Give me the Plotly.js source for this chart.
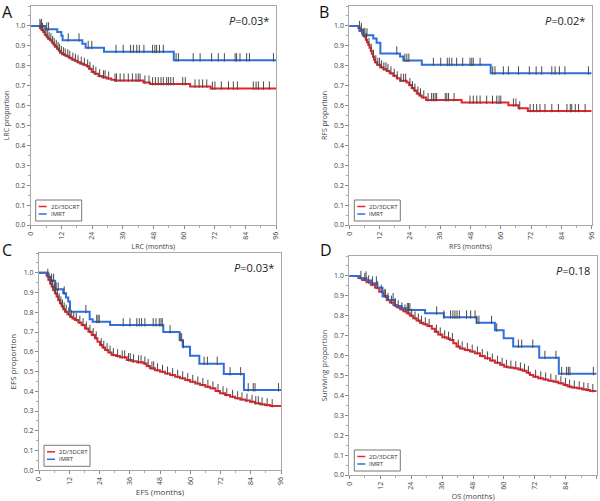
<!DOCTYPE html>
<html>
<head>
<meta charset="utf-8">
<script src="https://cdn.plot.ly/plotly-3.0.1.min.js"></script>
<style>html,body{margin:0;padding:0;background:#fff;}#chart{width:600px;height:501px;}</style>
</head>
<body>
<div id="chart"></div>
<script>
// ---------------- DATA ----------------
var groupNames = ["2D/3DCRT", "IMRT"];
var xTicks = [0, 12, 24, 36, 48, 60, 72, 84, 96];
var yTicks = [0.0, 0.1, 0.2, 0.3, 0.4, 0.5, 0.6, 0.7, 0.8, 0.9, 1.0];
var panelLetters = ["A", "B", "C", "D"];
var yTitles = ["LRC proportion", "RFS proportion", "EFS proportion", "Surviving proportion"];
var xTitles = ["LRC (months)", "RFS (months)", "EFS (months)", "OS (months)"];
var pValues = ["0.03*", "0.02*", "0.03*", "0.18"];

// Panel A: LRC
var A_crt_t = [0,3.6,4.2,4.9,5.5,6.2,6.8,7.6,8.3,9.0,9.5,10.3,11.0,11.5,12.3,13.2,14.1,15.0,16.0,17.2,18.3,19.3,20.5,21.9,22.8,23.9,25.0,26.5,28.0,29.7,31.5,33.0,44.1,46.7,62.4,70.4,96];
var A_crt_s = [1.0,0.99,0.98,0.97,0.955,0.945,0.935,0.928,0.915,0.905,0.895,0.885,0.875,0.865,0.858,0.852,0.848,0.84,0.831,0.825,0.818,0.811,0.805,0.797,0.785,0.769,0.76,0.748,0.742,0.736,0.73,0.726,0.716,0.708,0.696,0.686,0.686];
var A_crt_cens = [4.0,4.6,5.2,5.9,6.5,7.2,7.9,8.6,9.2,10.0,10.7,11.3,12.0,12.8,13.5,14.5,15.3,16.5,17.5,18.5,19.8,21.0,22.3,23.2,24.5,25.5,27.0,28.5,29.1,30.5,33.0,33.6,35.0,36.5,38.2,39.8,41.2,42.1,42.8,44.7,46.3,47.7,48.8,49.9,51.0,51.9,53.2,53.9,54.8,55.8,59.5,60.5,64.3,65.9,67.3,68.9,71.1,72.1,74.6,77.4,79.3,80.9,87.1,88.2,89.1,91.1,93.4];
var A_imrt_t = [0,5.8,10.4,12.0,12.5,20.2,21.5,28.7,56.0,96];
var A_imrt_s = [1.0,0.983,0.97,0.95,0.928,0.91,0.89,0.87,0.828,0.828];
var A_imrt_cens = [3.6,4.2,6.3,7.0,14.7,18.9,22.5,23.9,33.4,36.2,39.1,40.2,41.5,42.5,44.3,47.7,48.6,49.3,50.4,51.9,56.9,57.8,63.6,66.3,70.8,73.4,75.8,80.0,80.6,81.9,84.5,85.6,95.0];

// Panel B: RFS
var B_crt_t = [0,3.6,4.3,5.0,5.5,6.0,6.5,7.0,7.5,8.0,8.5,8.9,9.4,9.8,10.2,11.0,12.2,13.5,14.8,16.0,17.4,18.8,20.1,22.7,23.7,24.7,25.7,26.7,27.7,28.7,30.4,44.5,63.0,67.0,70.7,96];
var B_crt_s = [1,0.99,0.98,0.965,0.955,0.945,0.93,0.918,0.905,0.89,0.875,0.86,0.845,0.83,0.818,0.805,0.792,0.782,0.774,0.762,0.75,0.737,0.725,0.716,0.703,0.688,0.675,0.661,0.651,0.641,0.628,0.615,0.601,0.587,0.573,0.573];
var B_crt_cens = [4.0,4.8,5.8,6.8,7.8,8.7,9.6,10.5,11.3,12.0,12.8,13.7,14.5,15.3,16.5,17.8,19.0,20.5,21.5,22.3,24.0,25.0,26.0,27.2,28.2,29.5,31.2,32.6,33.3,34.0,34.6,38.0,38.6,39.3,41.5,47.8,49.1,50.5,51.8,54.4,56.7,58.4,59.3,60.0,65.0,66.0,67.5,71.6,72.9,74.2,75.5,77.5,80.2,82.8,86.2,87.5,88.1,89.5,90.8,93.4];
var B_imrt_t = [0,4.0,5.3,9.5,10.8,12.3,20.1,21.4,28.7,56.0,96];
var B_imrt_s = [1,0.975,0.953,0.937,0.915,0.862,0.846,0.826,0.805,0.762,0.762];
var B_imrt_cens = [5.5,6.2,7.0,18.8,22.0,22.8,23.6,33.3,36.2,38.8,39.6,40.6,42.5,44.9,47.8,48.5,49.1,51.8,56.8,57.7,61.0,63.0,67.0,71.3,74.0,76.2,80.2,81.5,83.2,85.4,94.7];

// Panel C: EFS
var C_crt_t = [0,3.0,3.7,4.4,5.0,5.6,6.3,7.0,7.6,8.3,9.0,9.6,10.3,11.3,12.3,13.3,14.3,15.6,16.9,18.2,19.6,20.9,22.2,23.2,24.2,25.2,26.2,27.5,28.8,30.5,32.1,34.8,36.8,38.8,41.4,42.7,44.0,46.0,48.0,50.0,52.0,54.0,55.9,58.0,59.9,62.0,63.9,66.0,67.9,70.0,71.8,73.8,75.8,77.8,79.8,81.8,83.7,85.7,87.7,89.7,91.7,96];
var C_crt_s = [1,0.985,0.965,0.946,0.93,0.913,0.896,0.88,0.862,0.845,0.83,0.815,0.803,0.79,0.777,0.769,0.761,0.748,0.735,0.718,0.701,0.685,0.668,0.651,0.634,0.621,0.609,0.596,0.584,0.578,0.572,0.558,0.552,0.547,0.541,0.528,0.516,0.507,0.499,0.49,0.482,0.474,0.466,0.457,0.448,0.44,0.432,0.423,0.415,0.402,0.39,0.381,0.372,0.365,0.359,0.353,0.347,0.34,0.334,0.33,0.325,0.322];
var C_crt_cens = [3.5,4.0,4.7,5.3,6.0,6.6,7.3,8.0,8.7,9.3,10.0,10.8,11.8,12.8,13.8,14.8,16.2,17.5,18.8,20.2,21.5,22.7,24.7,25.7,27.0,28.2,29.5,31.2,33.0,34.0,35.5,36.2,37.5,39.5,40.5,42.0,43.3,44.8,45.5,47.0,49.0,51.0,53.0,55.0,57.0,59.0,61.0,63.0,65.0,67.0,69.0,71.0,73.0,74.5,76.8,78.8,80.5,82.5,84.5,86.0,87.0,88.5,90.5,92.5];
var C_imrt_t = [0,3.5,4.8,6.4,9.6,10.7,11.6,12.3,20.1,21.3,28.2,49.3,55.8,57.0,59.9,63.6,73.3,81.3,96];
var C_imrt_s = [1,0.98,0.96,0.916,0.896,0.875,0.855,0.802,0.765,0.752,0.735,0.70,0.659,0.625,0.58,0.54,0.487,0.406,0.406];
var C_imrt_cens = [5.0,5.8,6.8,7.6,10.0,18.6,22.9,23.4,23.9,33.4,36.1,38.8,39.8,40.7,42.0,45.3,46.4,47.7,48.4,48.9,52.0,56.0,56.6,57.3,65.5,66.8,70.7,75.8,80.0,83.0,85.0,85.7,95.0];

// Panel D: OS
var D_crt_t = [0,3.5,5.0,6.7,8.3,10.0,11.6,13.2,14.5,15.8,17.1,18.4,19.7,21.0,22.3,23.5,24.8,26.1,27.4,28.7,30.3,32.0,33.2,34.5,36.1,37.8,39.1,40.4,41.6,42.9,44.8,46.8,48.7,50.7,52.6,54.6,56.5,58.5,60.1,61.7,63.7,65.6,67.2,68.8,70.1,71.4,73.3,75.3,77.2,79.2,81.1,83.1,84.7,86.3,88.3,90.2,91.8,93.4,96];
var D_crt_s = [1,0.99,0.98,0.968,0.955,0.94,0.921,0.9,0.879,0.866,0.854,0.843,0.832,0.822,0.812,0.8,0.787,0.776,0.765,0.757,0.749,0.735,0.72,0.706,0.692,0.685,0.678,0.662,0.645,0.636,0.628,0.62,0.611,0.598,0.586,0.575,0.564,0.554,0.544,0.54,0.536,0.53,0.524,0.513,0.502,0.494,0.486,0.48,0.474,0.468,0.461,0.452,0.444,0.44,0.436,0.431,0.427,0.422,0.422];
var D_crt_cens = [4.5,6.0,7.5,9.0,10.8,12.4,13.8,15.0,16.4,17.8,19.0,20.4,21.6,22.9,24.2,25.5,26.8,28.0,29.5,31.0,33.8,35.3,37.0,38.5,40.0,42.3,43.8,45.8,47.7,49.7,51.6,53.6,55.5,57.5,59.3,61.0,62.7,64.6,66.4,68.0,69.5,72.3,74.3,76.2,78.2,80.2,82.1,83.9,85.5,87.3,89.2,91.0,92.6,94.5];
var D_imrt_t = [0,4.1,6.7,8.7,10.9,12.9,15.1,17.7,20.3,22.0,29.4,36.7,49.4,56.5,59.9,63.6,73.7,81.3,96];
var D_imrt_s = [1,0.988,0.977,0.963,0.941,0.896,0.879,0.849,0.838,0.829,0.812,0.792,0.765,0.727,0.687,0.645,0.589,0.508,0.508];
var D_imrt_cens = [6.5,9.0,10.5,14.0,17.0,22.5,23.0,23.5,33.9,36.7,39.3,40.2,41.0,41.8,42.7,45.5,47.1,48.8,49.4,50.3,55.2,57.2,65.6,66.9,71.2,75.9,80.2,82.4,84.3,85.0,85.6,94.7];

// ---------------- STYLE / LAYOUT ----------------
var W = 600, H = 501;
var RED = "#e8232d", BLUE = "#2f6fdc", TICKC = "#4a4a4a";
var FONT = "Open Sans, DejaVu Sans, sans-serif";
function px(x){ return x / W; }
function py(y){ return 1 - y / H; }

// panel pixel boxes: x0 (month 0), x1 (month 96), yb (value 0.0), yt (value 1.1)
var boxes = [
  {x0:30.7, x1:276, yb:225, yt:6},
  {x0:349.3, x1:591.7, yb:225, yt:6},
  {x0:39, x1:281, yb:470.3, yt:253},
  {x0:349.3, x1:596.7, yb:475, yt:256}
];
var titleFont = [7, 7, 8, 7.5];

var panels = [
  {crt:[A_crt_t,A_crt_s,A_crt_cens], imrt:[A_imrt_t,A_imrt_s,A_imrt_cens]},
  {crt:[B_crt_t,B_crt_s,B_crt_cens], imrt:[B_imrt_t,B_imrt_s,B_imrt_cens]},
  {crt:[C_crt_t,C_crt_s,C_crt_cens], imrt:[C_imrt_t,C_imrt_s,C_imrt_cens]},
  {crt:[D_crt_t,D_crt_s,D_crt_cens], imrt:[D_imrt_t,D_imrt_s,D_imrt_cens]}
];

function stepAt(t, s, x){
  var v = s[0];
  for (var i = 0; i < t.length; i++){ if (t[i] <= x) v = s[i]; }
  return v;
}

var traces = [];
var layout = {
  width: W, height: H,
  margin: {l:0, r:0, t:0, b:0},
  paper_bgcolor: "#fff", plot_bgcolor: "#fff",
  showlegend: false,
  font: {family: FONT, color: "#333"},
  shapes: [], annotations: []
};
var CENS_OFF = 0.014;

panels.forEach(function(p, k){
  var n = k === 0 ? "" : String(k + 1);
  var xa = "x" + n, ya = "y" + n;
  var groups = [[p.crt, RED, groupNames[0]], [p.imrt, BLUE, groupNames[1]]];
  groups.forEach(function(g){
    var d = g[0];
    traces.push({type:"scatter", mode:"lines", x:d[0], y:d[1], xaxis:xa, yaxis:ya,
      line:{shape:"hv", color:g[1], width:2}, name:g[2], hoverinfo:"skip"});
  });
  groups.forEach(function(g){
    var d = g[0];
    var cy = d[2].map(function(x){ return stepAt(d[0], d[1], x) + CENS_OFF; });
    traces.push({type:"scatter", mode:"markers", x:d[2], y:cy, xaxis:xa, yaxis:ya,
      marker:{symbol:"line-ns-open", size:6, line:{width:1, color:TICKC}, color:TICKC},
      showlegend:false, hoverinfo:"skip"});
  });
  var b = boxes[k];
  layout["xaxis" + n] = {
    domain:[px(b.x0), px(b.x1)], range:[0, 96], anchor: ya,
    tickvals: xTicks, ticktext: xTicks.map(String), tickangle: -90,
    ticks:"outside", ticklen:3, tickcolor:"#888", tickfont:{size:7, color:"#444"},
    showline:true, mirror:true, linecolor:"#a8a8a8", linewidth:1,
    showgrid:false, zeroline:false,
    minor:{ticks:"outside", ticklen:2, dtick:6, tickcolor:"#aaa"},
    title:{text: xTitles[k], font:{size:titleFont[k], color:"#444"}, standoff:5}
  };
  layout["yaxis" + n] = {
    domain:[py(b.yb), py(b.yt)], range:[0, 1.1], anchor: xa,
    tickvals: yTicks, ticktext: yTicks.map(function(v){return v.toFixed(1);}),
    ticks:"outside", ticklen:3, tickcolor:"#888", tickfont:{size:7, color:"#444"},
    showline:true, mirror:true, linecolor:"#a8a8a8", linewidth:1,
    showgrid:false, zeroline:false,
    minor:{ticks:"outside", ticklen:2, dtick:0.05, tickcolor:"#aaa"},
    title:{text: yTitles[k], font:{size:titleFont[k], color:"#444"}, standoff:5}
  };
  // panel letter
  var letterPos = [[7,12],[324,12],[7,250],[326,250]][k];
  layout.annotations.push({xref:"paper", yref:"paper", x:px(letterPos[0]), y:py(letterPos[1]),
    text:panelLetters[k], showarrow:false, font:{size:16, color:"#111", family:FONT},
    xanchor:"center", yanchor:"middle"});
  // p value
  layout.annotations.push({xref: xa + " domain", yref: ya + " domain", x:0.98, y:0.935,
    text:"<i>P</i>=" + pValues[k], showarrow:false, font:{size:11, color:"#222", family:FONT},
    xanchor:"right", yanchor:"middle"});
  // legend box (custom)
  var lx0 = b.x0 + 5, lx1 = b.x0 + 51, ly1 = b.yb - 4, ly0 = ly1 - 21;
  layout.shapes.push({type:"rect", xref:"paper", yref:"paper", x0:px(lx0), x1:px(lx1), y0:py(ly1), y1:py(ly0),
    line:{color:"#777", width:1}, fillcolor:"rgba(255,255,255,0)"});
  var rows = [[ly0 + 6.5, RED, groupNames[0]], [ly0 + 14, BLUE, groupNames[1]]];
  rows.forEach(function(r){
    layout.shapes.push({type:"line", xref:"paper", yref:"paper", x0:px(lx0 + 3), x1:px(lx0 + 11), y0:py(r[0]), y1:py(r[0]),
      line:{color:r[1], width:1.5}});
    layout.annotations.push({xref:"paper", yref:"paper", x:px(lx0 + 13), y:py(r[0]), text:r[2], showarrow:false,
      font:{size:6, color:"#333", family:FONT}, xanchor:"left", yanchor:"middle"});
  });
});

Plotly.newPlot("chart", traces, layout, {staticPlot:true, displayModeBar:false});
</script>
</body>
</html>
